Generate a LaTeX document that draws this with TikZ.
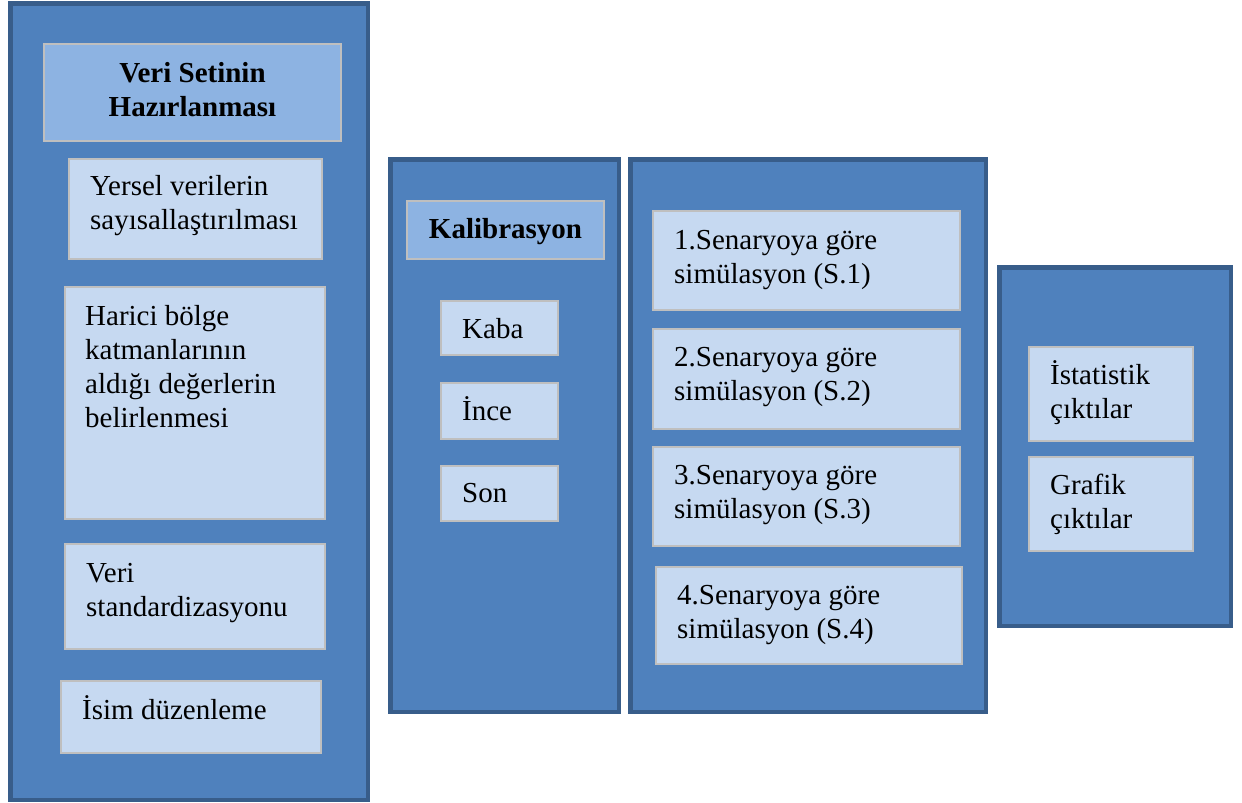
\documentclass[tikz,border=0pt]{standalone}
\usepackage{fontspec}
\setmainfont{Liberation Serif}
\usetikzlibrary{fit}
\definecolor{panelfill}{HTML}{4F81BD}
\definecolor{paneldraw}{HTML}{385D8A}
\definecolor{headfill}{HTML}{8DB3E2}
\definecolor{itemfill}{HTML}{C6D9F1}
\definecolor{itemdraw}{HTML}{BFBFBF}
\begin{document}
\begin{tikzpicture}[x=1pt,y=-1pt,
  panel/.style={draw=paneldraw, fill=panelfill, line width=4.5pt, inner sep=0pt},
  headbox/.style={draw=itemdraw, fill=headfill, line width=2.5pt, inner sep=0pt},
  itembox/.style={draw=itemdraw, fill=itemfill, line width=2.5pt, inner sep=0pt},
  txt/.style={inner sep=0pt, anchor=base west, align=left, font=\fontsize{29}{34}\selectfont},
  htxt/.style={inner sep=0pt, anchor=base, align=center, font=\fontsize{29}{34}\selectfont\bfseries}]
\useasboundingbox (0,0) rectangle (1242,803);
% panels
\node[panel, fit={(10.25,3.25) (367.75,799.75)}] (p1) {};
\node[panel, fit={(390.25,159.25) (618.75,711.75)}] (p2) {};
\node[panel, fit={(630.25,159.25) (985.75,711.75)}] (p3) {};
\node[panel, fit={(999.25,267.25) (1230.75,625.75)}] (p4) {};
% panel 1
\node[headbox, fit={(44,44) (341,141)}] (h1) {};
\node[itembox, fit={(69,159) (322,259)}] (b1) {};
\node[itembox, fit={(65,287) (325,519)}] (b2) {};
\node[itembox, fit={(65,544) (325,649)}] (b3) {};
\node[itembox, fit={(61,681) (321,753)}] (b4) {};
\node[htxt] (th1) at (192.5,116) {Veri Setinin\\Hazırlanması};
\node[txt] (tb1) at (90,229) {Yersel verilerin\\sayısallaştırılması};
\node[txt] (tb2) at (85,427) {Harici bölge\\katmanlarının\\aldığı değerlerin\\belirlenmesi};
\node[txt] (tb3) at (86,616) {Veri\\standardizasyonu};
\node[txt] (tb4) at (82,719) {İsim düzenleme};
% panel 2
\node[headbox, fit={(407,201) (604,259)}] (h2) {};
\node[itembox, fit={(441,301) (558,355)}] (k1) {};
\node[itembox, fit={(441,383) (558,439)}] (k2) {};
\node[itembox, fit={(441,466) (558,521)}] (k3) {};
\node[htxt] (th2) at (505.5,238) {Kalibrasyon};
\node[txt] (tk1) at (462,338) {Kaba};
\node[txt] (tk2) at (462,420) {İnce};
\node[txt] (tk3) at (462,502) {Son};
% panel 3
\node[itembox, fit={(653,211) (960,310)}] (s1) {};
\node[itembox, fit={(653,329) (960,429)}] (s2) {};
\node[itembox, fit={(653,447) (960,546)}] (s3) {};
\node[itembox, fit={(656,567) (962,664)}] (s4) {};
\node[txt] (ts1) at (674,283) {1.Senaryoya göre\\simülasyon (S.1)};
\node[txt] (ts2) at (674,400) {2.Senaryoya göre\\simülasyon (S.2)};
\node[txt] (ts3) at (674,518) {3.Senaryoya göre\\simülasyon (S.3)};
\node[txt] (ts4) at (677,638) {4.Senaryoya göre\\simülasyon (S.4)};
% panel 4
\node[itembox, fit={(1029,347) (1193,441)}] (o1) {};
\node[itembox, fit={(1029,457) (1193,551)}] (o2) {};
\node[txt] (to1) at (1050,418) {İstatistik\\çıktılar};
\node[txt] (to2) at (1050,528) {Grafik\\çıktılar};
\end{tikzpicture}
\end{document}
